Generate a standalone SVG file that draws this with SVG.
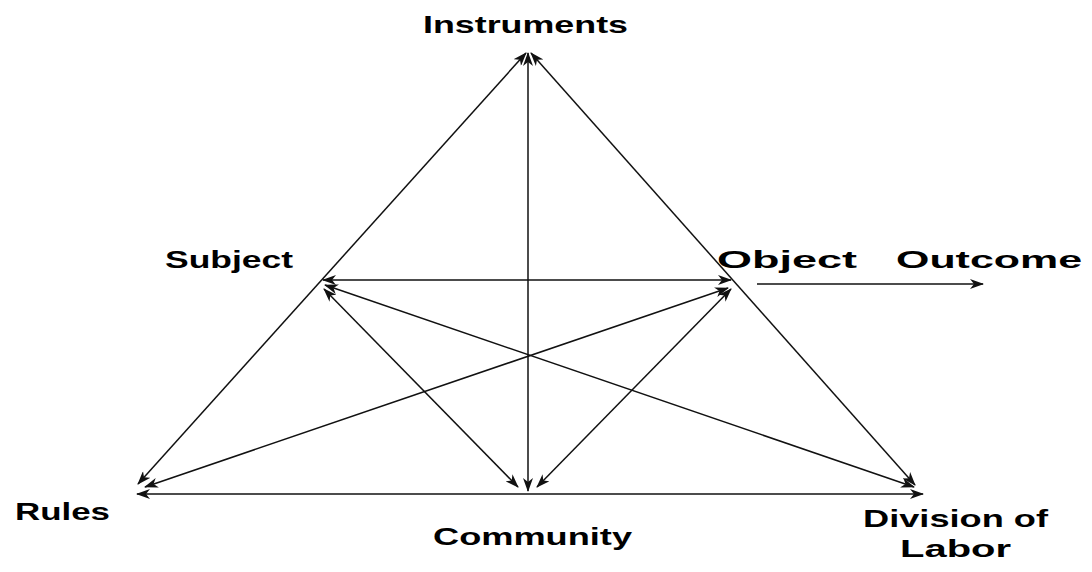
<svg xmlns="http://www.w3.org/2000/svg" width="1092" height="572" viewBox="0 0 1092 572">
<style>
.lbl{font-family:"Liberation Sans",Arial,sans-serif;font-weight:bold;font-size:24px;fill:#000}
.c{stroke:#111;stroke-width:1.5;fill:none;marker-end:url(#ah)}
.d{marker-start:url(#ah)}
</style>
<defs>
<marker id="ah" viewBox="0 0 14 10" refX="13" refY="5" markerWidth="14" markerHeight="10" markerUnits="userSpaceOnUse" orient="auto-start-reverse">
<path d="M0,0 L14,5 L0,10 L4,5 Z" fill="#111"/>
</marker>
</defs>
<rect width="1092" height="572" fill="#fff"/>
<g id="connectors">
<line class="c d" x1="526" y1="53" x2="138" y2="484"/>
<line class="c d" x1="531" y1="53" x2="915" y2="485"/>
<line class="c d" x1="528" y1="53" x2="528" y2="491"/>
<line class="c d" x1="323" y1="280" x2="731" y2="280"/>
<line class="c d" x1="324" y1="289" x2="518" y2="487"/>
<line class="c d" x1="325" y1="285" x2="914" y2="487"/>
<line class="c d" x1="728" y1="288" x2="145" y2="487"/>
<line class="c d" x1="731" y1="289" x2="537" y2="487"/>
<line class="c d" x1="137" y1="494" x2="923" y2="494"/>
<line class="c" x1="757" y1="284" x2="983" y2="284"/>
</g>
<g id="instruments"><text class="lbl" x="423" y="33" textLength="205" lengthAdjust="spacingAndGlyphs">Instruments</text></g>
<g id="subject"><text class="lbl" x="165" y="268" textLength="128" lengthAdjust="spacingAndGlyphs">Subject</text></g>
<g id="object"><text class="lbl" x="717" y="268" textLength="140" lengthAdjust="spacingAndGlyphs">Object</text></g>
<g id="outcome"><text class="lbl" x="896" y="268" textLength="186" lengthAdjust="spacingAndGlyphs">Outcome</text></g>
<g id="rules"><text class="lbl" x="15" y="520" textLength="95" lengthAdjust="spacingAndGlyphs">Rules</text></g>
<g id="community"><text class="lbl" x="433" y="545" textLength="199" lengthAdjust="spacingAndGlyphs">Community</text></g>
<g id="division"><text class="lbl" x="863" y="527" textLength="185" lengthAdjust="spacingAndGlyphs">Division of</text><text class="lbl" x="900" y="557" textLength="111" lengthAdjust="spacingAndGlyphs">Labor</text></g>
</svg>
